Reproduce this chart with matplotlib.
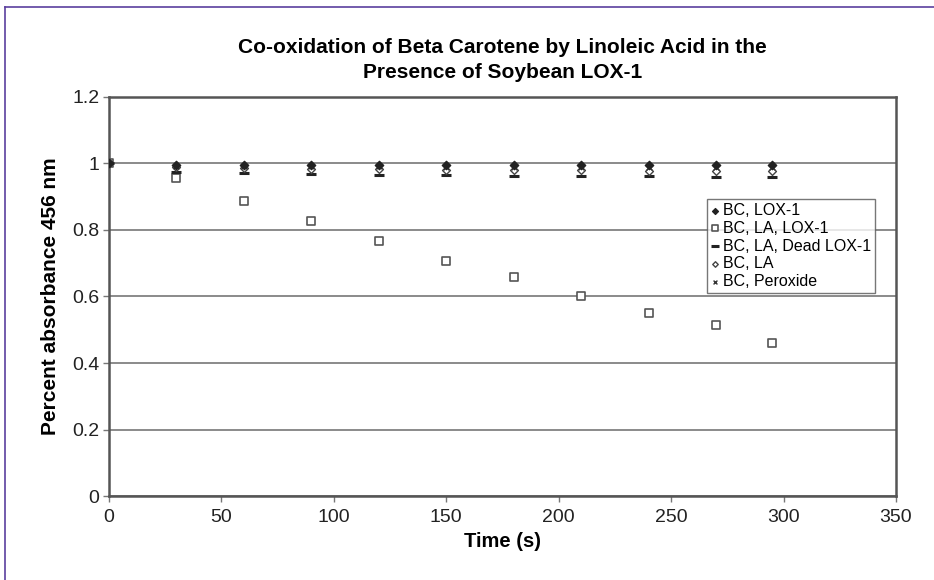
#!/usr/bin/env python3

# Co-oxidation of beta carotene by linoleic acid, soybean LOX-1

import matplotlib
matplotlib.use("Agg")
from matplotlib import pyplot as plt
from matplotlib.lines import Line2D

plt.rcParams["font.family"] = ["Liberation Sans", "DejaVu Sans"]

time_s = [0, 30, 60, 90, 120, 150, 180, 210, 240, 270, 295]

bc_lox = [1.0, 0.995, 0.995, 0.995, 0.995, 0.995, 0.995, 0.995, 0.995, 0.995, 0.995]
bc_la_lox = [1.0, 0.956, 0.887, 0.827, 0.767, 0.706, 0.658, 0.601, 0.551, 0.514, 0.460]
bc_la_dead = [1.0, 0.975, 0.972, 0.968, 0.966, 0.964, 0.963, 0.962, 0.961, 0.960, 0.960]
bc_la = [1.0, 0.988, 0.986, 0.984, 0.983, 0.981, 0.980, 0.979, 0.978, 0.977, 0.976]
bc_perox = [1.0, 0.992, 0.992, 0.991, 0.991, 0.990, 0.990, 0.990, 0.990, 0.989, 0.989]

labels = ["BC, LOX-1", "BC, LA, LOX-1", "BC, LA, Dead LOX-1", "BC, LA", "BC, Peroxide"]

fig = plt.figure(figsize=(9.34, 5.8), dpi=100)
ax = fig.add_axes([0.1167, 0.1448, 0.8426, 0.688])

ax.scatter(time_s, bc_lox, marker="D", s=18, color="#222222", label=labels[0], zorder=5)
ax.scatter(time_s, bc_la_lox, marker="s", s=40, facecolor="white",
           edgecolor="#555555", linewidth=1.2, label=labels[1], zorder=4)
ax.scatter(time_s, bc_la_dead, marker="_", s=60, color="#222222",
           linewidth=2.2, label=labels[2], zorder=4)
ax.scatter(time_s, bc_la, marker="D", s=16, facecolor="white",
           edgecolor="#444444", linewidth=1.0, label=labels[3], zorder=4)
ax.scatter(time_s, bc_perox, marker="x", s=16, color="#333333",
           linewidth=1.0, label=labels[4], zorder=4)

ax.set_xlim(0, 350)
ax.set_ylim(0, 1.2)
ax.set_xticks(range(0, 351, 50))
ax.set_yticks([0, 0.2, 0.4, 0.6, 0.8, 1.0, 1.2])
ax.set_yticklabels(["0", "0.2", "0.4", "0.6", "0.8", "1", "1.2"])
ax.yaxis.grid(True, color="#777777", lw=1.2)
ax.set_axisbelow(True)
for s in ax.spines.values():
    s.set_color("#555555")
    s.set_linewidth(1.8)
ax.tick_params(direction="out", length=4, width=1, color="#777777",
               labelsize=14, labelcolor="#222222", pad=3)
ax.tick_params(axis="x", pad=5)

ax.set_xlabel("Time (s)", fontsize=14.5, fontweight="bold", labelpad=5)
ax.set_ylabel("Percent absorbance 456 nm", fontsize=15, fontweight="bold", labelpad=9)
ax.set_title("Co-oxidation of Beta Carotene by Linoleic Acid in the\nPresence of Soybean LOX-1",
             fontsize=15, fontweight="bold", pad=14, linespacing=1.4)

leg = ax.legend(loc="lower left", bbox_to_anchor=(0.76, 0.508), fontsize=11.5,
                frameon=True, fancybox=False, handletextpad=0.25, handlelength=0.5,
                borderpad=0.25, labelspacing=0.18, borderaxespad=0, markerscale=0.7)
leg.get_frame().set_edgecolor("#555555")
leg.get_frame().set_linewidth(1.0)

# purple frame at the top and left edge
fig.add_artist(Line2D([5 / 934, 5 / 934], [0, 1 - 7 / 580], color="#5b3f9e", lw=1.2))
fig.add_artist(Line2D([5 / 934, 1], [1 - 7 / 580, 1 - 7 / 580], color="#5b3f9e", lw=1.2))

plt.savefig("out.png", dpi=100)
